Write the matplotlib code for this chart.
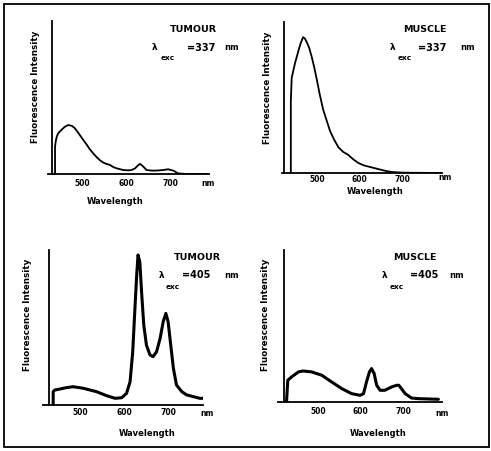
import matplotlib
matplotlib.use("Agg")
import matplotlib.pyplot as plt
from matplotlib.patches import Rectangle

W, H = 491, 451

# ---------------- data (wavelength in nm, intensity in % of axis height) ----------------
tumour_337_wl = [438, 438, 440, 442, 445, 449, 455, 461, 468, 476, 482, 487, 494, 502, 510, 517,
                 525, 533, 540, 548, 555, 563, 570, 578, 593, 605, 612, 620, 626, 631, 637, 646,
                 655, 661, 672, 684, 695, 707, 718, 737, 786]
tumour_337_int = [0, 18, 22, 24.5, 26.5, 27.8, 29.5, 31, 32, 31.5, 30.2, 28.4, 25.6, 22.3, 19.2, 16.2,
                  13.4, 10.9, 9.0, 7.4, 6.6, 5.9, 4.6, 3.7, 2.6, 2.4, 2.6, 3.7, 5.5, 6.6, 5.3, 2.6,
                  2.3, 2.2, 2.3, 2.6, 3.1, 2.2, 0.4, 0, 0]

muscle_337_wl = [438, 438, 440, 444, 448, 454, 460, 464, 467, 471, 475, 481, 487, 493, 499, 506,
                 514, 522, 530, 540, 550, 561, 573, 585, 597, 610, 624, 638, 652, 664, 675, 690,
                 707, 793]
muscle_337_int = [0, 48, 63, 68, 73, 79, 85, 88, 90, 89, 87, 83, 77, 70, 62, 52,
                  42, 35, 28, 22, 17, 14, 12, 9, 6.6, 5, 4, 3, 2, 1.2, 0.7, 0.4,
                  0.2, 0]

tumour_405_wl = [439, 439, 443, 454, 469, 484, 507, 537, 560, 579, 594, 605, 613, 619, 624,
                 628, 631, 635, 639, 644, 650, 658, 665, 673, 681, 688, 694, 699, 705, 711,
                 718, 730, 741, 756, 771, 779]
tumour_405_int = [0, 8.6, 9.7, 10.3, 11.2, 11.8, 10.8, 8.6, 6.0, 4.3, 4.7, 7.5, 15, 34.4, 62.4,
                  83.9, 96.8, 92.5, 73.1, 51.6, 38.7, 32.3, 31.2, 34.4, 43, 53.8, 59.1, 53.8, 38.7, 23.7,
                  12.9, 8.6, 6.5, 5.4, 4.3, 4.3]

muscle_405_wl = [426, 429, 438, 454, 465, 485, 509, 532, 556, 579, 599, 607, 614, 621, 626,
                 632, 638, 646, 657, 673, 685, 690, 696, 705, 720, 736, 783]
muscle_405_int = [0, 14.3, 16.5, 19.8, 20.4, 19.8, 17.6, 13.2, 8.8, 5.5, 4.4, 5.5, 13.2, 19.8, 22,
                  18.7, 11, 7.7, 7.7, 9.9, 11, 11, 8.8, 5.5, 2.6, 2.2, 1.8]

tick_values = [500, 600, 700]
tick_labels = ["500", "600", "700"]
tissues = ["TUMOUR", "MUSCLE", "TUMOUR", "MUSCLE"]
excitations = ["=337", "=337", "=405", "=405"]

# ---------------- layout ----------------
fig = plt.figure(figsize=(W / 100, H / 100), dpi=100)
fig.patch.set_facecolor("white")

def fx(x):
    return x / W

def fy(y):
    return 1 - y / H

panels = [
    dict(x0=48, x1=209, top=21, base=174, yax=52, xlim=(422.0, 788.0), lw=1.3, pad=3.5,
         wlx=0.42, wly=202, nm_y=184, ylab=(35, 87)),
    dict(x0=282, x1=442, top=22, base=173, yax=284, xlim=(417.2, 793.6), lw=1.3, pad=1.5,
         wlx=0.58, wly=192, nm_y=178, ylab=(267, 88)),
    dict(x0=43, x1=203, top=250, base=405, yax=49, xlim=(416.0, 778.0), lw=2.2, pad=2.5,
         wlx=0.65, wly=433, nm_y=413, ylab=(28, 315)),
    dict(x0=278, x1=442, top=250, base=402, yax=284, xlim=(406.0, 791.5), lw=2.2, pad=3.5,
         wlx=0.61, wly=433, nm_y=413, ylab=(265, 315)),
]

series = [(tumour_337_wl, tumour_337_int), (muscle_337_wl, muscle_337_int),
          (tumour_405_wl, tumour_405_int), (muscle_405_wl, muscle_405_int)]

nm_x = [208, 445, 207, 442]

for p, (wl, inten), nmx in zip(panels, series, nm_x):
    ax = fig.add_axes([fx(p["x0"]), fy(p["base"]), (p["x1"] - p["x0"]) / W,
                       (p["base"] - p["top"]) / H])
    ax.set_facecolor("none")
    ax.plot(wl, inten, color="black", lw=p["lw"], solid_joinstyle="round",
            solid_capstyle="round")
    ax.set_xlim(*p["xlim"])
    ax.set_ylim(0, 100)
    for s in ["top", "right"]:
        ax.spines[s].set_visible(False)
    ax.spines["left"].set_position(("axes", (p["yax"] - p["x0"]) / (p["x1"] - p["x0"])))
    ax.spines["left"].set_linewidth(1.3)
    ax.spines["bottom"].set_linewidth(1.3)
    ax.set_yticks([])
    ax.set_xticks(tick_values)
    ax.set_xticklabels(tick_labels, fontsize=5.5, fontweight="bold")
    ax.tick_params(axis="x", length=0, pad=p["pad"])
    fig.text(fx(nmx), fy(p["nm_y"]), "nm", fontsize=5.5, fontweight="bold",
             ha="center", va="center")
    fig.text(fx(p["x0"] + p["wlx"] * (p["x1"] - p["x0"])), fy(p["wly"]), "Wavelength",
             fontsize=6, fontweight="bold", ha="center", va="center")
    fig.text(fx(p["ylab"][0]), fy(p["ylab"][1]), "Fluorescence Intensity", rotation=90,
             fontsize=6.3, fontweight="bold", ha="center", va="center")

ann = [
    dict(t=(193, 29), lam=(155, 48), exc=(168, 58), val=(201, 48), nm=(232, 48)),
    dict(t=(425, 29), lam=(393, 48), exc=(405, 58), val=(432, 48), nm=(468, 48)),
    dict(t=(197, 257), lam=(162, 275), exc=(173, 287), val=(196, 275), nm=(232, 275)),
    dict(t=(415, 257), lam=(385, 275), exc=(397, 287), val=(424, 275), nm=(457, 275)),
]
for a, tissue, ex in zip(ann, tissues, excitations):
    fig.text(fx(a["t"][0]), fy(a["t"][1]), tissue, fontsize=6.8, fontweight="bold",
             ha="center", va="center")
    fig.text(fx(a["lam"][0]), fy(a["lam"][1]), "λ", fontsize=6.5, fontweight="bold",
             ha="center", va="center")
    fig.text(fx(a["exc"][0]), fy(a["exc"][1]), "exc", fontsize=5.3, fontweight="bold",
             ha="center", va="center")
    fig.text(fx(a["val"][0]), fy(a["val"][1]), ex, fontsize=7, fontweight="bold",
             ha="center", va="center")
    fig.text(fx(a["nm"][0]), fy(a["nm"][1]), "nm", fontsize=6, fontweight="bold",
             ha="center", va="center")

fig.patches.append(Rectangle((fx(4), fy(447)), (489 - 4) / W, (447 - 4) / H,
                             transform=fig.transFigure, fill=False, lw=1.3,
                             edgecolor="black"))

fig.savefig("out.png", dpi=100, facecolor="white")
